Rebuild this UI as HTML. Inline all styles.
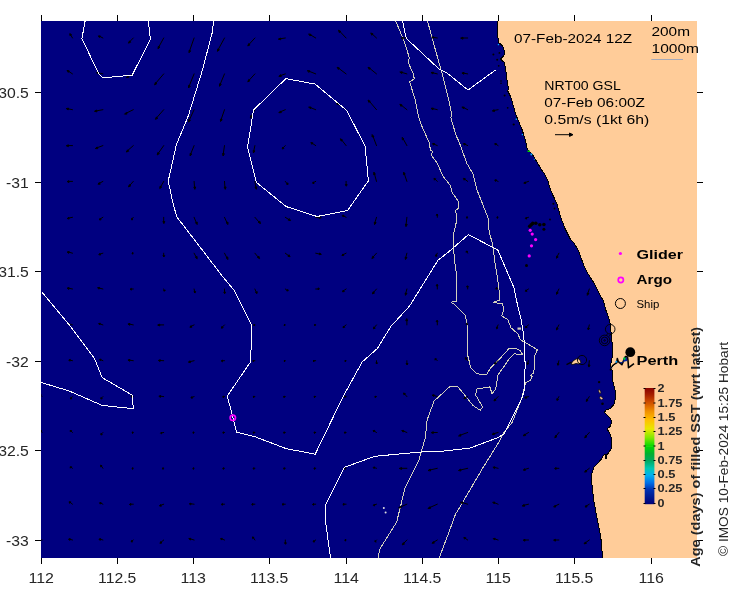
<!DOCTYPE html>
<html><head><meta charset="utf-8">
<style>
html,body{margin:0;padding:0;background:#fff;width:740px;height:592px;overflow:hidden}
svg{display:block;will-change:transform}
text{font-family:"Liberation Sans",sans-serif}
</style></head><body>
<svg width="740" height="592" viewBox="0 0 740 592">
<defs>
<clipPath id="ax"><rect x="41" y="21" width="656" height="537"/></clipPath>
<linearGradient id="cb" x1="0" y1="1" x2="0" y2="0">
<stop offset="0" stop-color="#00007a"/>
<stop offset="0.12" stop-color="#001890"/>
<stop offset="0.25" stop-color="#0030b0"/>
<stop offset="0.37" stop-color="#0070e8"/>
<stop offset="0.5" stop-color="#00b0f0"/>
<stop offset="0.62" stop-color="#00c8b0"/>
<stop offset="0.75" stop-color="#00a860"/>
<stop offset="0.87" stop-color="#00b030"/>
<stop offset="1" stop-color="#00d800"/>
</linearGradient>
<linearGradient id="cb2" x1="0" y1="1" x2="0" y2="0">
<stop offset="0" stop-color="#00d800"/>
<stop offset="0.15" stop-color="#80e800"/>
<stop offset="0.3" stop-color="#e8e800"/>
<stop offset="0.45" stop-color="#ffc000"/>
<stop offset="0.6" stop-color="#f09000"/>
<stop offset="0.75" stop-color="#d05000"/>
<stop offset="0.88" stop-color="#a82000"/>
<stop offset="1" stop-color="#880000"/>
</linearGradient>
</defs>
<rect x="0" y="0" width="740" height="592" fill="#fff"/>
<g clip-path="url(#ax)">
<rect x="41" y="21" width="656" height="537" fill="#000080"/>
<g fill="none" stroke="#d2d0bc" stroke-width="1" shape-rendering="crispEdges">
<path d="M395.7,21.0 L404.2,41.4 L409.3,57.6 L408.2,62.6 L413.3,73.8 L414.3,78.9 L409.3,81.9 L410.3,83.9 L415.3,100.1 L418.4,116.4 L421.3,125.0 L429.4,143.2 L430.4,150.3 L432.4,151.4 L431.4,155.4 L437.5,163.5 L442.6,175.7 L450.7,185.8 L451.7,191.9 L458.8,202.0 L458.8,208.1 L455.7,210.1 L456.8,220.3 L453.1,235.5 L454.2,258.5 L456.2,272.7 L456.2,301.1 L451.1,302.1 L455.2,305.1 L465.3,315.3 L467.4,325.4 L467.3,353.6 L470.8,367.8 L476.8,373.7 L486.2,374.9 L490.9,367.8 L498.0,360.7 L508.7,348.9 L515.3,348.1 L520.4,350.7 L522.9,354.9 L520.4,354.9 L514.5,353.7 L510.3,357.4 L498.0,374.9 L495.7,389.1 L492.1,393.8 L489.8,386.8 L476.8,389.1 L475.6,395.0 L482.7,406.9 L480.3,410.4 L473.2,405.7 L463.7,393.8 L457.8,386.8 L449.6,386.8 L434.2,400.9 L427.1,419.9 L425.3,437.7 L418.5,461.4 L405.0,488.4 L396.6,522.2 L379.7,549.2 L378.0,559.0"/><path d="M427.5,21.0 L433.6,43.4 L442.7,75.8 L448.8,100.1 L451.8,115.3 L450.8,117.4 L455.9,135.0 L458.8,141.2 L466.9,163.5 L473.0,173.7 L477.0,189.9 L488.2,218.2 L489.2,232.4 L492.7,244.3 L494.7,260.5 L498.8,286.9 L499.8,300.1 L493.7,302.1 L497.8,303.1 L502.7,303.4 L503.5,310.1 L501.8,316.0 L507.7,319.4 L511.1,327.9 L517.9,333.8 L520.4,339.7 L530.5,345.6 L537.3,349.8 L534.8,355.7 L533.9,372.6 L530.5,375.2 L532.2,376.9 L530.5,380.2 L525.5,382.8 L521.7,398.6 L512.2,422.2 L502.8,434.0 L499.6,441.0 L482.7,468.1 L459.0,508.6 L455.7,513.7 L448.9,532.3 L438.8,559.0"/>
</g>
<path fill="#000" stroke="#000" stroke-width="1" stroke-linecap="round" d="M72.5,38.0L70.8,35.1M70.1,33.8L71.5,34.7L70.2,35.4ZM102.9,38.0L100.0,36.5M98.7,35.9L100.3,35.9L99.6,37.2ZM133.3,38.0L130.0,41.4M128.6,42.8L129.5,40.8L130.5,41.9ZM163.7,38.0L159.0,46.6M158.0,48.4L158.3,46.3L159.6,47.0ZM194.1,38.0L189.7,50.5M189.0,52.4L189.0,50.3L190.4,50.8ZM224.5,38.0L218.4,49.2M217.5,51.0L217.8,48.9L219.1,49.6ZM254.9,38.0L249.3,44.1M247.9,45.6L248.7,43.6L249.8,44.6ZM285.3,38.0L280.6,38.7M278.6,39.0L280.5,38.0L280.7,39.4ZM315.7,38.0L310.7,35.0M309.0,34.0L311.1,34.4L310.3,35.7ZM346.1,38.0L340.2,31.8M338.8,30.4L340.7,31.3L339.6,32.4ZM376.5,38.0L372.6,34.4M371.1,33.1L373.1,33.9L372.1,35.0ZM406.9,38.0L403.1,38.0M401.5,38.0L403.1,37.2L403.1,38.8ZM437.3,38.0L433.5,37.4M431.9,37.2L433.6,36.7L433.4,38.2ZM467.7,38.0L463.0,38.0M461.0,38.0L463.0,37.2L463.0,38.8ZM72.5,73.9L68.9,71.5M67.4,70.5L69.3,70.9L68.5,72.1ZM102.9,73.9L98.7,73.0M96.9,72.6L98.9,72.2L98.5,73.7ZM133.3,73.9L128.4,76.4M126.6,77.3L128.0,75.7L128.7,77.0ZM163.7,73.9L156.0,82.9M154.7,84.5L155.4,82.4L156.6,83.4ZM194.1,73.9L189.3,85.7M188.6,87.6L188.6,85.4L190.0,86.0ZM224.5,73.9L220.3,84.0M219.5,85.9L219.6,83.7L221.0,84.3ZM254.9,73.9L249.3,80.0M247.9,81.5L248.7,79.5L249.8,80.5ZM285.3,73.9L281.0,75.4M279.1,76.1L280.7,74.7L281.2,76.1ZM315.7,73.9L309.5,71.4M307.6,70.7L309.7,70.7L309.2,72.1ZM346.1,73.9L339.1,68.6M337.5,67.4L339.5,68.0L338.6,69.2ZM376.5,73.9L370.0,68.6M368.4,67.4L370.4,68.0L369.5,69.2ZM406.9,73.9L402.1,72.5M400.2,72.0L402.3,71.8L401.9,73.2ZM437.3,73.9L433.2,72.9M431.4,72.5L433.3,72.2L433.0,73.6ZM467.7,73.9L463.9,73.2M462.3,72.9L464.1,72.4L463.8,73.9ZM72.5,109.7L68.4,108.9M66.6,108.5L68.5,108.1L68.2,109.6ZM102.9,109.7L96.8,110.8M94.8,111.1L96.6,110.0L96.9,111.5ZM133.3,109.7L126.6,113.0M124.8,113.9L126.3,112.4L126.9,113.7ZM163.7,109.7L156.9,117.5M155.6,119.0L156.3,117.0L157.5,118.0ZM194.1,109.7L189.4,119.9M188.6,121.7L188.8,119.6L190.1,120.2ZM224.5,109.7L221.2,119.3M220.5,121.2L220.4,119.1L221.9,119.6ZM254.9,109.7L251.4,116.0M250.4,117.7L250.7,115.6L252.0,116.3ZM285.3,109.7L280.9,111.6M279.1,112.4L280.6,110.9L281.2,112.3ZM315.7,109.7L310.9,107.8M309.0,107.0L311.1,107.1L310.6,108.5ZM346.1,109.7L338.2,104.1M336.6,102.9L338.7,103.5L337.8,104.7ZM376.5,109.7L369.7,101.7M368.4,100.2L370.3,101.3L369.1,102.2ZM406.9,109.7L401.8,105.6M400.2,104.3L402.2,105.0L401.3,106.2ZM437.3,109.7L433.2,108.7M431.4,108.3L433.3,108.0L433.0,109.5ZM467.7,109.7L463.9,107.8M462.3,107.0L464.3,107.2L463.6,108.5ZM498.1,109.7L494.2,110.4M492.6,110.7L494.1,109.7L494.4,111.2ZM72.5,145.6L68.4,145.6M66.6,145.6L68.4,144.8L68.4,146.3ZM102.9,145.6L97.5,147.6M95.6,148.3L97.2,146.9L97.7,148.3ZM133.3,145.6L128.0,150.3M126.5,151.7L127.5,149.8L128.5,150.9ZM163.7,145.6L158.5,153.0M157.3,154.6L157.8,152.5L159.1,153.4ZM194.1,145.6L190.8,153.7M190.1,155.6L190.1,153.4L191.5,154.0ZM224.5,145.6L223.3,153.6M223.0,155.6L222.6,153.5L224.0,153.7ZM254.9,145.6L253.8,150.6M253.4,152.6L253.1,150.5L254.6,150.8ZM285.3,145.6L283.2,147.7M282.3,148.6L282.7,147.1L283.7,148.2ZM315.7,145.6L312.6,143.5M311.2,142.6L313.0,142.9L312.1,144.1ZM346.1,145.6L342.0,140.4M340.7,138.9L342.5,140.0L341.4,140.9ZM376.5,145.6L373.1,136.6M372.4,134.8L373.8,136.4L372.4,136.9ZM406.9,145.6L403.4,139.3M402.4,137.6L404.0,139.0L402.7,139.7ZM437.3,145.6L434.1,144.2M432.8,143.6L434.5,143.5L433.8,144.9ZM467.7,145.6L464.9,144.2M463.7,143.6L465.2,143.5L464.6,144.9ZM498.1,145.6L496.0,144.2M495.1,143.6L496.4,143.6L495.6,144.8ZM72.5,181.4L69.0,181.4M67.5,181.4L69.0,180.7L69.0,182.2ZM102.9,181.4L99.6,183.2M98.2,183.9L99.3,182.5L100.0,183.9ZM133.3,181.4L130.0,185.1M128.6,186.5L129.4,184.6L130.5,185.6ZM163.7,181.4L160.8,186.5M159.8,188.2L160.1,186.1L161.4,186.9ZM194.1,181.4L194.5,187.0M194.7,189.0L193.8,187.1L195.3,187.0ZM224.5,181.4L224.9,187.0M225.1,189.0L224.2,187.1L225.7,187.0ZM254.9,181.4L255.8,187.1M256.1,189.0L255.0,187.2L256.5,186.9ZM285.3,181.4L287.0,183.5M287.7,184.4L286.4,184.0L287.6,183.1ZM315.7,181.4L313.6,182.5M312.7,182.9L313.3,181.8L313.9,183.2ZM346.1,181.4L346.1,184.6M346.1,185.9L345.3,184.6L346.8,184.6ZM376.5,181.4L374.6,174.4M374.1,172.4L375.3,174.2L373.9,174.6ZM406.9,181.4L404.5,174.3M403.9,172.4L405.2,174.1L403.8,174.6ZM437.3,181.4L435.2,179.3M434.3,178.4L435.7,178.8L434.7,179.9ZM467.7,181.4L464.9,179.3M463.7,178.4L465.3,178.7L464.4,179.9ZM498.1,181.4L496.0,180.4M495.1,179.9L496.3,179.7L495.7,181.1ZM528.5,181.4L525.4,182.5M524.0,182.9L525.1,181.8L525.6,183.2ZM72.5,217.3L69.0,218.0M67.5,218.3L68.9,217.3L69.1,218.7ZM102.9,217.3L100.5,218.8M99.5,219.5L100.1,218.2L100.9,219.5ZM133.3,217.3L132.1,218.8M131.6,219.5L131.5,218.4L132.7,219.3ZM163.7,217.3L163.7,221.5M163.7,223.3L162.9,221.5L164.4,221.5ZM194.1,217.3L196.2,222.4M196.9,224.3L195.5,222.7L196.9,222.2ZM224.5,217.3L226.9,222.5M227.7,224.3L226.2,222.8L227.6,222.2ZM254.9,217.3L258.9,221.9M260.2,223.4L258.3,222.4L259.5,221.4ZM285.3,217.3L288.7,219.5M290.2,220.5L288.3,220.2L289.1,218.9ZM315.7,217.3L319.4,217.7M321.0,217.8L319.3,218.4L319.5,216.9ZM346.1,217.3L343.6,215.9M342.6,215.3L344.0,215.2L343.3,216.6ZM376.5,217.3L375.0,222.4M374.5,224.3L374.3,222.2L375.8,222.6ZM406.9,217.3L406.1,224.3M405.9,226.3L405.4,224.2L406.9,224.4ZM437.3,217.3L437.3,215.2M437.3,214.3L438.0,215.2L436.5,215.2ZM467.7,217.3L467.0,217.3M466.7,217.3L467.0,216.6L467.0,218.1ZM498.1,217.3L497.4,217.3M497.1,217.3L497.4,216.6L497.4,218.1ZM528.5,217.3L526.4,218.0M525.5,218.3L526.2,217.3L526.6,218.7ZM72.5,253.2L69.0,252.2M67.5,251.9L69.2,251.5L68.8,253.0ZM102.9,253.2L100.2,254.0M99.0,254.4L99.9,253.3L100.4,254.7ZM133.3,253.2L132.6,253.2M132.3,253.2L132.6,252.4L132.6,253.9ZM163.7,253.2L163.7,255.6M163.7,256.7L162.9,255.6L164.4,255.6ZM194.1,253.2L196.1,256.9M196.9,258.6L195.4,257.3L196.7,256.6ZM224.5,253.2L226.8,257.5M227.7,259.3L226.1,257.8L227.4,257.1ZM254.9,253.2L258.0,256.9M259.3,258.5L257.4,257.4L258.6,256.4ZM285.3,253.2L288.4,255.6M289.7,256.7L287.9,256.2L288.8,255.0ZM315.7,253.2L319.4,254.0M321.0,254.4L319.2,254.7L319.6,253.3ZM346.1,253.2L343.3,254.6M342.1,255.2L343.0,253.9L343.6,255.2ZM376.5,253.2L373.3,256.7M372.0,258.2L372.8,256.2L373.9,257.2ZM406.9,253.2L405.8,257.4M405.4,259.2L405.1,257.2L406.6,257.5ZM437.3,253.2L436.2,255.3M435.8,256.2L435.6,254.9L436.9,255.6ZM467.7,253.2L467.0,251.8M466.7,251.2L467.7,251.4L466.3,252.1ZM558.9,253.2L557.2,256.4M556.5,257.9L556.6,256.1L557.9,256.8ZM72.5,289.0L69.0,288.3M67.5,288.0L69.1,287.6L68.9,289.1ZM102.9,289.0L99.4,288.1M97.9,287.7L99.6,287.4L99.2,288.8ZM133.3,289.0L131.3,289.0M130.4,289.0L131.3,288.3L131.3,289.8ZM163.7,289.0L164.2,290.4M164.4,291.0L163.5,290.7L164.9,290.2ZM194.1,289.0L194.6,291.7M194.8,292.8L193.9,291.8L195.3,291.5ZM224.5,289.0L224.5,292.1M224.5,293.4L223.8,292.1L225.2,292.1ZM254.9,289.0L256.2,292.1M256.7,293.4L255.5,292.4L256.9,291.8ZM285.3,289.0L287.1,290.3M287.9,290.8L286.7,290.9L287.5,289.7ZM315.7,289.0L318.1,289.0M319.2,289.0L318.1,289.8L318.1,288.3ZM346.1,289.0L343.6,290.7M342.6,291.4L343.2,290.1L344.1,291.3ZM376.5,289.0L373.7,292.2M372.5,293.5L373.1,291.7L374.3,292.7ZM406.9,289.0L405.8,293.2M405.4,295.0L405.1,293.0L406.6,293.4ZM437.3,289.0L437.3,285.9M437.3,284.5L438.0,285.9L436.5,285.9ZM467.7,289.0L467.7,286.9M467.7,286.0L468.4,286.9L466.9,286.9ZM498.1,289.0L496.7,288.3M496.1,288.0L497.0,287.6L496.4,289.0ZM528.5,289.0L526.4,290.4M525.5,291.0L526.0,289.8L526.8,291.0ZM558.9,289.0L557.2,292.5M556.5,294.0L556.5,292.2L557.9,292.8ZM589.3,289.0L587.9,293.2M587.3,295.0L587.2,293.0L588.6,293.5ZM72.5,324.9L69.0,323.9M67.5,323.5L69.2,323.2L68.8,324.6ZM102.9,324.9L100.1,323.9M98.9,323.5L100.3,323.2L99.9,324.6ZM133.3,324.9L129.8,324.2M128.3,323.9L129.9,323.4L129.7,324.9ZM163.7,324.9L159.7,324.9M158.0,324.9L159.7,324.1L159.7,325.6ZM194.1,324.9L191.3,326.3M190.1,326.9L191.0,325.6L191.6,327.0ZM224.5,324.9L222.4,327.0M221.5,327.9L221.9,326.4L222.9,327.5ZM254.9,324.9L254.2,324.9M253.9,324.9L254.2,324.1L254.2,325.6ZM285.3,324.9L284.6,324.9M284.3,324.9L284.6,324.1L284.6,325.6ZM315.7,324.9L315.0,324.9M314.7,324.9L315.0,324.1L315.0,325.6ZM346.1,324.9L344.0,326.6M343.1,327.3L343.5,326.0L344.5,327.1ZM376.5,324.9L374.4,327.4M373.5,328.5L373.8,326.9L375.0,327.9ZM406.9,324.9L406.9,320.7M406.9,318.9L407.6,320.7L406.1,320.7ZM437.3,324.9L437.3,321.7M437.3,320.4L438.0,321.7L436.5,321.7ZM467.7,324.9L467.0,323.8M466.7,323.4L467.6,323.4L466.4,324.2ZM498.1,324.9L497.0,327.4M496.6,328.5L496.4,327.1L497.7,327.7ZM528.5,324.9L526.4,326.6M525.5,327.3L525.9,326.0L526.9,327.1ZM558.9,324.9L557.2,328.2M556.5,329.6L556.6,327.8L557.9,328.5ZM589.3,324.9L588.5,328.2M588.1,329.6L587.7,328.0L589.2,328.4ZM72.5,360.7L70.1,360.2M69.1,359.9L70.3,359.4L69.9,360.9ZM102.9,360.7L100.8,359.8M99.9,359.3L101.1,359.1L100.5,360.4ZM133.3,360.7L129.8,360.2M128.3,359.9L129.9,359.4L129.7,360.9ZM163.7,360.7L160.2,360.5M158.7,360.3L160.3,359.7L160.1,361.2ZM194.1,360.7L190.2,361.6M188.6,361.9L190.1,360.8L190.4,362.3ZM224.5,360.7L222.4,360.7M221.5,360.7L222.4,360.0L222.4,361.5ZM254.9,360.7L253.5,360.7M252.9,360.7L253.5,360.0L253.5,361.5ZM285.3,360.7L284.6,360.7M284.3,360.7L284.6,360.0L284.6,361.5ZM315.7,360.7L314.0,360.7M313.3,360.7L314.0,360.0L314.0,361.5ZM346.1,360.7L345.4,360.7M345.1,360.7L345.4,360.0L345.4,361.5ZM376.5,360.7L376.5,362.8M376.5,363.7L375.8,362.8L377.2,362.8ZM406.9,360.7L406.9,363.5M406.9,364.7L406.1,363.5L407.6,363.5ZM437.3,360.7L435.9,359.3M435.3,358.7L436.4,358.8L435.4,359.9ZM467.7,360.7L466.3,358.6M465.7,357.7L466.9,358.2L465.7,359.1ZM498.1,360.7L495.6,362.8M494.5,363.7L495.1,362.3L496.1,363.4ZM528.5,360.7L527.7,363.2M527.3,364.2L527.0,362.9L528.4,363.4ZM558.9,360.7L558.1,363.8M557.7,365.0L557.3,363.5L558.8,364.0ZM589.3,360.7L588.9,364.9M588.8,366.7L588.2,364.9L589.7,365.0ZM42.1,396.6L40.7,395.2M40.1,394.6L41.2,394.7L40.2,395.7ZM72.5,396.6L71.1,398.0M70.5,398.6L70.6,397.5L71.6,398.5ZM102.9,396.6L101.5,398.0M100.9,398.6L101.0,397.5L102.0,398.5ZM133.3,396.6L131.9,396.2M131.3,396.1L132.1,395.5L131.7,397.0ZM163.7,396.6L160.5,396.2M159.2,396.1L160.6,395.5L160.5,397.0ZM194.1,396.6L192.0,397.3M191.1,397.6L191.8,396.6L192.2,398.0ZM224.5,396.6L223.4,396.6M223.0,396.6L223.4,395.9L223.4,397.4ZM254.9,396.6L253.8,396.6M253.4,396.6L253.8,395.9L253.8,397.4ZM285.3,396.6L284.2,396.6M283.8,396.6L284.2,395.9L284.2,397.4ZM315.7,396.6L314.6,396.6M314.2,396.6L314.6,395.9L314.6,397.4ZM346.1,396.6L345.0,396.6M344.6,396.6L345.0,395.9L345.0,397.4ZM376.5,396.6L375.4,396.6M375.0,396.6L375.4,395.9L375.4,397.4ZM406.9,396.6L404.8,394.2M403.9,393.1L405.4,393.7L404.2,394.6ZM437.3,396.6L433.9,395.5M432.5,395.0L434.2,394.8L433.7,396.2ZM467.7,396.6L465.2,397.7M464.1,398.2L464.9,397.0L465.5,398.4ZM498.1,396.6L495.3,399.4M494.1,400.6L494.8,398.9L495.8,399.9ZM528.5,396.6L526.0,397.3M525.0,397.6L525.8,396.6L526.3,398.0ZM558.9,396.6L557.5,399.1M556.9,400.1L556.8,398.7L558.2,399.4ZM589.3,396.6L587.2,399.8M586.3,401.1L586.6,399.3L587.8,400.2ZM42.1,432.5L41.1,431.1M40.6,430.5L41.7,430.6L40.5,431.5ZM72.5,432.5L71.1,431.1M70.5,430.5L71.6,430.5L70.6,431.6ZM102.9,432.5L101.5,433.9M100.9,434.5L101.0,433.3L102.0,434.4ZM133.3,432.5L132.6,432.5M132.3,432.5L132.6,431.7L132.6,433.2ZM163.7,432.5L161.6,432.8M160.7,433.0L161.5,432.1L161.7,433.5ZM194.1,432.5L193.4,432.5M193.1,432.5L193.4,431.7L193.4,433.2ZM224.5,432.5L223.4,432.5M223.0,432.5L223.4,431.7L223.4,433.2ZM254.9,432.5L253.8,432.5M253.4,432.5L253.8,431.7L253.8,433.2ZM285.3,432.5L284.2,432.5M283.8,432.5L284.2,431.7L284.2,433.2ZM315.7,432.5L314.6,432.5M314.2,432.5L314.6,431.7L314.6,433.2ZM346.1,432.5L345.0,432.5M344.6,432.5L345.0,431.7L345.0,433.2ZM376.5,432.5L374.4,431.1M373.5,430.5L374.8,430.4L374.0,431.7ZM406.9,432.5L403.5,431.1M402.1,430.5L403.8,430.4L403.3,431.8ZM437.3,432.5L433.3,432.5M431.6,432.5L433.3,431.7L433.3,433.2ZM467.7,432.5L460.7,435.0M458.8,435.7L460.4,434.3L460.9,435.7ZM498.1,432.5L494.1,433.6M492.4,434.1L493.9,432.9L494.3,434.3ZM528.5,432.5L525.0,434.6M523.5,435.5L524.6,433.9L525.4,435.2ZM558.9,432.5L556.1,436.0M554.9,437.5L555.5,435.5L556.7,436.4ZM589.3,432.5L586.1,436.0M584.8,437.5L585.6,435.5L586.7,436.5ZM72.5,468.3L71.1,467.3M70.5,466.8L71.5,466.7L70.6,467.9ZM102.9,468.3L101.5,466.2M100.9,465.3L102.1,465.8L100.9,466.6ZM133.3,468.3L132.6,468.3M132.3,468.3L132.6,467.6L132.6,469.1ZM163.7,468.3L163.0,468.3M162.7,468.3L163.0,467.6L163.0,469.1ZM194.1,468.3L193.4,468.3M193.1,468.3L193.4,467.6L193.4,469.1ZM224.5,468.3L223.4,468.3M223.0,468.3L223.4,467.6L223.4,469.1ZM254.9,468.3L253.8,468.3M253.4,468.3L253.8,467.6L253.8,469.1ZM285.3,468.3L284.2,468.3M283.8,468.3L284.2,467.6L284.2,469.1ZM315.7,468.3L314.6,468.3M314.2,468.3L314.6,467.6L314.6,469.1ZM346.1,468.3L345.0,468.3M344.6,468.3L345.0,467.6L345.0,469.1ZM376.5,468.3L374.4,467.6M373.5,467.3L374.6,466.9L374.2,468.3ZM406.9,468.3L401.6,468.3M399.6,468.3L401.6,467.6L401.6,469.1ZM437.3,468.3L430.4,469.9M428.4,470.3L430.2,469.1L430.5,470.6ZM467.7,468.3L460.8,469.9M458.8,470.3L460.6,469.1L460.9,470.6ZM498.1,468.3L494.7,467.5M493.3,467.2L494.9,466.8L494.6,468.3ZM528.5,468.3L525.0,469.4M523.5,469.8L524.8,468.7L525.2,470.1ZM558.9,468.3L556.1,468.3M554.9,468.3L556.1,467.6L556.1,469.1ZM589.3,468.3L586.1,470.8M584.8,471.8L585.7,470.2L586.6,471.4ZM72.5,504.2L70.4,502.5M69.5,501.8L70.9,501.9L69.9,503.1ZM102.9,504.2L100.8,503.1M99.9,502.7L101.1,502.5L100.5,503.8ZM133.3,504.2L130.8,504.2M129.7,504.2L130.8,503.4L130.8,504.9ZM163.7,504.2L160.9,505.2M159.7,505.7L160.6,504.5L161.2,505.9ZM194.1,504.2L190.9,503.8M189.6,503.7L191.0,503.1L190.9,504.6ZM224.5,504.2L222.4,504.2M221.5,504.2L222.4,503.4L222.4,504.9ZM254.9,504.2L252.8,504.2M251.9,504.2L252.8,503.4L252.8,504.9ZM285.3,504.2L283.2,504.2M282.3,504.2L283.2,503.4L283.2,504.9ZM315.7,504.2L313.6,504.2M312.7,504.2L313.6,503.4L313.6,504.9ZM346.1,504.2L344.0,504.2M343.1,504.2L344.0,503.4L344.0,504.9ZM376.5,504.2L374.4,504.9M373.5,505.2L374.2,504.2L374.6,505.6ZM406.9,504.2L400.7,506.9M398.9,507.7L400.4,506.2L401.0,507.6ZM437.3,504.2L430.1,507.4M428.3,508.2L429.8,506.7L430.4,508.1ZM467.7,504.2L462.6,502.7M460.7,502.2L462.8,502.0L462.4,503.5ZM498.1,504.2L494.6,502.8M493.1,502.2L494.9,502.1L494.3,503.5ZM528.5,504.2L524.3,505.2M522.5,505.7L524.1,504.5L524.5,506.0ZM558.9,504.2L555.4,505.9M553.9,506.7L555.1,505.3L555.7,506.6ZM589.3,504.2L586.5,505.9M585.3,506.7L586.1,505.3L586.9,506.6ZM42.1,540.0L40.4,540.0M39.7,540.0L40.4,539.3L40.4,540.8ZM72.5,540.0L70.0,539.3M68.9,539.0L70.2,538.6L69.8,540.1ZM102.9,540.0L100.4,539.3M99.3,539.0L100.6,538.6L100.2,540.1ZM133.3,540.0L131.9,541.1M131.3,541.5L131.5,540.5L132.3,541.7ZM163.7,540.0L161.2,542.1M160.1,543.0L160.7,541.6L161.7,542.7ZM194.1,540.0L190.6,539.0M189.1,538.5L190.8,538.3L190.4,539.7ZM224.5,540.0L222.0,539.0M220.9,538.5L222.3,538.3L221.7,539.7ZM254.9,540.0L253.5,537.9M252.9,537.0L254.1,537.5L252.9,538.4ZM285.3,540.0L285.3,542.8M285.3,544.0L284.5,542.8L286.0,542.8ZM315.7,540.0L314.0,541.1M313.3,541.5L313.6,540.5L314.4,541.7ZM346.1,540.0L345.4,540.0M345.1,540.0L345.4,539.3L345.4,540.8ZM376.5,540.0L375.4,541.1M375.0,541.5L374.9,540.6L376.0,541.6ZM406.9,540.0L403.8,543.2M402.4,544.5L403.2,542.7L404.3,543.7ZM437.3,540.0L433.8,542.1M432.3,543.0L433.4,541.5L434.2,542.8ZM467.7,540.0L465.2,538.3M464.2,537.5L465.7,537.7L464.8,538.9ZM498.1,540.0L494.9,539.0M493.6,538.5L495.2,538.3L494.7,539.7ZM528.5,540.0L525.0,540.0M523.5,540.0L525.0,539.3L525.0,540.8ZM558.9,540.0L555.4,540.0M553.9,540.0L555.4,539.3L555.4,540.8ZM589.3,540.0L585.8,542.5M584.3,543.5L585.4,541.9L586.2,543.1Z"/>
<g fill="none" stroke="#fff" stroke-width="1" shape-rendering="crispEdges">
<path d="M85.1,21.0 L81.9,38.6 L98.4,73.1 L102.4,77.2 L110.5,77.2 L132.2,75.1 L150.4,39.3 L148.4,21.0"/><path d="M285.9,78.6 L315.1,84.1 L346.8,110.5 L365.1,146.2 L368.4,180.8 L347.6,210.5 L317.0,216.5 L286.0,206.5 L256.2,182.2 L247.6,147.0 L253.5,110.0 L285.9,78.6"/><path d="M213.7,21.0 L212.0,33.6 L202.2,70.7 L188.7,114.7 L186.5,120.3 L176.4,144.6 L168.2,181.1 L172.3,200.0 L176.6,216.6 L200.2,247.3 L223.8,278.0 L233.8,289.9 L251.0,324.1 L251.9,325.0 L250.6,361.8 L227.3,396.0 L236.7,432.2 L254.4,436.5 L286.1,448.6 L315.2,454.2 L340.0,403.0 L343.6,395.7 L362.2,361.9 L377.4,348.4 L390.9,326.4 L409.5,306.1 L438.2,259.9 L448.1,252.4 L468.4,234.6 L497.8,250.0 L514.0,287.9 L518.0,307.2 L521.3,320.3 L523.8,335.5 L525.2,365.5 L524.0,391.5 L521.7,398.6 L514.6,412.8 L503.9,434.0 L498.0,437.6 L469.7,448.2 L443.6,451.1 L421.9,451.9 L374.6,456.3 L344.2,467.4 L325.6,504.6 L325.6,522.2 L330.7,559.3"/><path d="M42.1,292.3 L67.9,323.2 L94.5,358.6 L102.1,377.6 L132.5,395.3 L133.2,408.7 L102.1,405.4 L69.2,391.0 L38.0,381.5"/><path d="M402.6,21.0 L406.2,38.3 L438.7,68.7 L446.8,72.8 L468.0,90.0 L495.4,70.1"/>
</g>
<path fill="#ffcc99" stroke="#000" stroke-width="1" shape-rendering="crispEdges" d="M497.3,21.0 L497.6,35.3 L498.9,42.7 L501.6,44.7 L503.6,48.1 L504.6,52.8 L503.6,56.2 L500.3,58.9 L501.6,60.3 L504.3,62.3 L505.7,69.1 L507.0,79.9 L508.4,88.0 L507.7,91.0 L510.0,95.4 L512.3,102.0 L515.7,114.3 L522.4,130.5 L525.8,141.4 L527.2,149.5 L531.9,153.5 L541.4,169.7 L544.3,173.5 L547.7,180.3 L551.0,191.0 L557.2,204.6 L560.5,216.8 L564.6,227.6 L570.7,240.0 L574.2,243.5 L578.9,251.6 L583.6,265.0 L587.7,273.2 L594.5,284.0 L600.5,296.2 L603.1,300.0 L606.0,310.5 L609.9,321.6 L611.2,333.8 L612.6,347.3 L611.9,360.0 L610.3,365.0 L612.0,370.1 L612.9,381.9 L615.1,390.3 L615.4,398.8 L613.7,404.7 L610.3,408.6 L606.1,409.8 L604.4,412.3 L607.0,414.8 L610.3,418.2 L611.7,422.4 L610.0,426.7 L607.0,428.9 L609.5,432.6 L612.0,439.3 L611.3,448.4 L608.7,452.7 L607.0,454.4 L606.2,459.4 L605.0,454.4 L603.6,455.2 L601.1,459.4 L593.5,467.9 L591.8,473.8 L591.0,482.2 L592.2,485.6 L593.5,499.1 L596.0,512.6 L599.4,529.5 L601.1,540.0 L602.6,558.0 L700.0,560.0 L700.0,18.0 Z"/>
</g>
<path stroke="#000" stroke-width="1" fill="none" d="M41.5,15V21M41.5,558V564M117.5,15V21M117.5,558V564M193.5,15V21M193.5,558V564M269.5,15V21M269.5,558V564M346.5,15V21M346.5,558V564M422.5,15V21M422.5,558V564M498.5,15V21M498.5,558V564M574.5,15V21M574.5,558V564M651.5,15V21M651.5,558V564M35,92.5H41M697,92.5H703M35,182.5H41M697,182.5H703M35,271.5H41M697,271.5H703M35,361.5H41M697,361.5H703M35,450.5H41M697,450.5H703M35,540.5H41M697,540.5H703"/>
<g font-size="14.3" fill="#262626"><text x="28.5" y="583" textLength="25.4" lengthAdjust="spacingAndGlyphs">112</text><text x="98.1" y="583" textLength="38.2" lengthAdjust="spacingAndGlyphs">112.5</text><text x="180.5" y="583" textLength="25.4" lengthAdjust="spacingAndGlyphs">113</text><text x="250.1" y="583" textLength="38.2" lengthAdjust="spacingAndGlyphs">113.5</text><text x="333.5" y="583" textLength="25.4" lengthAdjust="spacingAndGlyphs">114</text><text x="403.1" y="583" textLength="38.2" lengthAdjust="spacingAndGlyphs">114.5</text><text x="485.5" y="583" textLength="25.4" lengthAdjust="spacingAndGlyphs">115</text><text x="555.1" y="583" textLength="38.2" lengthAdjust="spacingAndGlyphs">115.5</text><text x="638.5" y="583" textLength="25.4" lengthAdjust="spacingAndGlyphs">116</text><text x="-7.1" y="97.8" textLength="35.9" lengthAdjust="spacingAndGlyphs">-30.5</text><text x="6.1" y="187.8" textLength="22.7" lengthAdjust="spacingAndGlyphs">-31</text><text x="-7.1" y="276.8" textLength="35.9" lengthAdjust="spacingAndGlyphs">-31.5</text><text x="6.1" y="366.8" textLength="22.7" lengthAdjust="spacingAndGlyphs">-32</text><text x="-7.1" y="455.8" textLength="35.9" lengthAdjust="spacingAndGlyphs">-32.5</text><text x="6.1" y="545.8" textLength="22.7" lengthAdjust="spacingAndGlyphs">-33</text></g>
<g fill="#000"><circle cx="493.4" cy="54.4" r="1"/><circle cx="499.4" cy="52.9" r="0.9"/><circle cx="497.2" cy="59.7" r="1"/><circle cx="498.7" cy="65.8" r="0.9"/><circle cx="501" cy="81" r="0.8"/><circle cx="501" cy="83.3" r="0.8"/><circle cx="504.6" cy="95.6" r="1"/><circle cx="507.7" cy="107.8" r="0.9"/><circle cx="513.7" cy="124.5" r="1.1"/></g>
<g fill="#00b0ff"><rect x="497.8" y="44" width="1.2" height="1.2"/><rect x="515.7" y="118.5" width="1.2" height="1.5"/><rect x="521.8" y="134" width="1.2" height="1.2"/></g>
<rect x="527.5" y="150.5" width="2.5" height="1.5" fill="#00d000"/><rect x="530.5" y="153.5" width="1.8" height="1.8" fill="#00b0ff"/><rect x="533.8" y="158.8" width="1" height="1" fill="#00b0ff"/>
<g fill="#000"><circle cx="553.4" cy="203.8" r="1"/><circle cx="554.5" cy="208.5" r="0.9"/><circle cx="550" cy="219.5" r="0.9"/></g>
<!-- bottom white dots -->
<rect x="517.5" y="327.5" width="3.5" height="2.2" fill="#d2d0bc"/>
<circle cx="383.8" cy="508" r="1" fill="#e0e0e0"/>
<circle cx="385.6" cy="512.6" r="1" fill="#e0e0e0"/>
<!-- glider track black dots -->
<g fill="#000">
<circle cx="529.7" cy="226.2" r="1.8"/><circle cx="531.2" cy="224.7" r="1.8"/><circle cx="532.7" cy="223.4" r="1.8"/><circle cx="535.8" cy="223.2" r="1.8"/><circle cx="539.8" cy="224.7" r="1.8"/><circle cx="543.9" cy="224.5" r="1.8"/><circle cx="543.9" cy="229.3" r="1.5"/><circle cx="526.5" cy="265.6" r="1.5"/>
</g>
<g fill="#ff00ff">
<circle cx="530.2" cy="230.3" r="1.6"/><circle cx="532.2" cy="234.1" r="1.6"/><circle cx="535.6" cy="239.6" r="1.6"/><circle cx="531.5" cy="245.8" r="1.6"/><circle cx="529.2" cy="255.9" r="1.6"/>
</g>
<!-- argo marker -->
<circle cx="232.8" cy="417.8" r="2.7" fill="none" stroke="#ff00ff" stroke-width="1.6"/>
<!-- Rottnest -->
<path d="M571,364 L573,361 576,359 578,358.5 580,360 581,362.5 579,364 576,363.5 573,364.5 Z" fill="#ffcc99" stroke="#000" stroke-width="0.8"/>
<circle cx="582" cy="360" r="4.6" fill="none" stroke="#000" stroke-width="0.9"/>
<!-- garden island bits -->
<circle cx="599.1" cy="382.1" r="1.2" fill="#000"/>
<circle cx="602.5" cy="403.7" r="1.3" fill="#000"/>
<path d="M566.5,364.7 L571.5,362" stroke="#000" stroke-width="1.4"/>
<path d="M599,389 L601,392 600,394 598.5,391 Z" fill="#ffcc99" stroke="#000" stroke-width="0.6"/>
<path d="M600.5,396 L603,398.5 601.5,400 599.5,398 Z" fill="#ffcc99" stroke="#000" stroke-width="0.6"/>
<!-- ship circles near Perth -->
<g fill="none" stroke="#000" stroke-width="0.9">
<circle cx="610.2" cy="329.2" r="4.8"/>
<circle cx="604.6" cy="340.4" r="5.3"/>
<circle cx="604.6" cy="340.4" r="3.3"/>
<circle cx="604.6" cy="340.4" r="0.8"/>
<path d="M606.5,335.5 L607.5,333.5 M609,336.5 L611,333.8"/>
</g>
<!-- Swan river -->
<path d="M610.2,370.3 L612.7,365.7 616.8,362.7 617.3,358.6 618.3,361.7 621.9,364.7 623.4,361.1 625.4,356.6 627.5,357.1 628,360.6 628.5,367.7 630,366.7 634,363.7" fill="none" stroke="#000" stroke-width="1.6" stroke-linejoin="round"/>
<path d="M619,362.5 L622,363.5 624.5,358 627,357.5 627.3,361 Z" fill="#0020a0"/>
<path d="M611.5,368.5 L615.5,364.5" stroke="#f0d0b0" stroke-width="0.8"/>
<circle cx="624.4" cy="358.6" r="1.3" fill="#00c040"/>
<circle cx="616.3" cy="361.7" r="1" fill="#00a0ff"/>
<circle cx="630.3" cy="352.2" r="4.9" fill="#000"/>
<!-- texts -->
<g fill="#000" font-size="13.5">
<text x="514" y="43.1" textLength="118" lengthAdjust="spacingAndGlyphs">07-Feb-2024 12Z</text>
<text x="651.5" y="35.8" textLength="38.5" lengthAdjust="spacingAndGlyphs">200m</text>
<text x="651.5" y="52.8" textLength="47.5" lengthAdjust="spacingAndGlyphs">1000m</text>
<text x="544.3" y="89.7" textLength="76.5" lengthAdjust="spacingAndGlyphs">NRT00 GSL</text>
<text x="544.3" y="106.9" textLength="100.5" lengthAdjust="spacingAndGlyphs">07-Feb 06:00Z</text>
<text x="544.3" y="123.6" textLength="105" lengthAdjust="spacingAndGlyphs">0.5m/s (1kt 6h)</text>
</g>
<line x1="651.3" y1="59.5" x2="683" y2="59.5" stroke="#a4a8b8" stroke-width="1"/>
<path d="M555,134.7 H570.5 M573,134.7 L569.5,133 L569.5,136.4 Z" stroke="#000" stroke-width="1" fill="#000"/>
<!-- legend -->
<circle cx="620.4" cy="253.5" r="1.6" fill="#ff00ff"/>
<circle cx="620.8" cy="280" r="2.6" fill="none" stroke="#ff00ff" stroke-width="1.7"/>
<circle cx="620.4" cy="303.5" r="5" fill="none" stroke="#000" stroke-width="1"/>
<g fill="#000" font-weight="bold" font-size="13.5">
<text x="636.5" y="258.6" textLength="46.5" lengthAdjust="spacingAndGlyphs">Glider</text>
<text x="636.5" y="283.9" textLength="35.5" lengthAdjust="spacingAndGlyphs">Argo</text>
<text x="636.5" y="364.8" textLength="41.8" lengthAdjust="spacingAndGlyphs">Perth</text>
</g>
<text x="636.5" y="307.6" font-size="10.5" fill="#000" textLength="22.8" lengthAdjust="spacingAndGlyphs">Ship</text>
<!-- colorbar -->
<rect x="644.7" y="446.2" width="9.7" height="58" fill="url(#cb)"/>
<rect x="644.7" y="388" width="9.7" height="58.5" fill="url(#cb2)"/>
<g stroke="#000" stroke-width="1">
<path d="M643.5,388.5h2M653.5,388.5h2M643.5,403h2M653.5,403h2M643.5,417.5h2M653.5,417.5h2M643.5,431.5h2M653.5,431.5h2M643.5,446h2M653.5,446h2M643.5,460.5h2M653.5,460.5h2M643.5,474.5h2M653.5,474.5h2M643.5,488.5h2M653.5,488.5h2M643.5,503.5h2M653.5,503.5h2"/>
</g>
<g fill="#262626" font-weight="bold" font-size="10.6">
<text x="657.5" y="392.4" textLength="7.0" lengthAdjust="spacingAndGlyphs">2</text>
<text x="657.5" y="407" textLength="24.9" lengthAdjust="spacingAndGlyphs">1.75</text>
<text x="657.5" y="421.3" textLength="17.9" lengthAdjust="spacingAndGlyphs">1.5</text>
<text x="657.5" y="435.3" textLength="24.9" lengthAdjust="spacingAndGlyphs">1.25</text>
<text x="657.5" y="450" textLength="7.0" lengthAdjust="spacingAndGlyphs">1</text>
<text x="657.5" y="464.3" textLength="24.9" lengthAdjust="spacingAndGlyphs">0.75</text>
<text x="657.5" y="478.4" textLength="17.9" lengthAdjust="spacingAndGlyphs">0.5</text>
<text x="657.5" y="492.4" textLength="24.9" lengthAdjust="spacingAndGlyphs">0.25</text>
<text x="657.5" y="507.4" textLength="7.0" lengthAdjust="spacingAndGlyphs">0</text>
</g>
<text transform="translate(700,566.8) rotate(-90)" font-size="12.2" font-weight="bold" fill="#262626" textLength="240" lengthAdjust="spacingAndGlyphs">Age (days) of filled SST (wrt latest)</text>
<text transform="translate(728.3,556) rotate(-90)" font-size="12.2" fill="#262626" textLength="214" lengthAdjust="spacingAndGlyphs">© IMOS 10-Feb-2024 15:25 Hobart</text>

</svg>
</body></html>
